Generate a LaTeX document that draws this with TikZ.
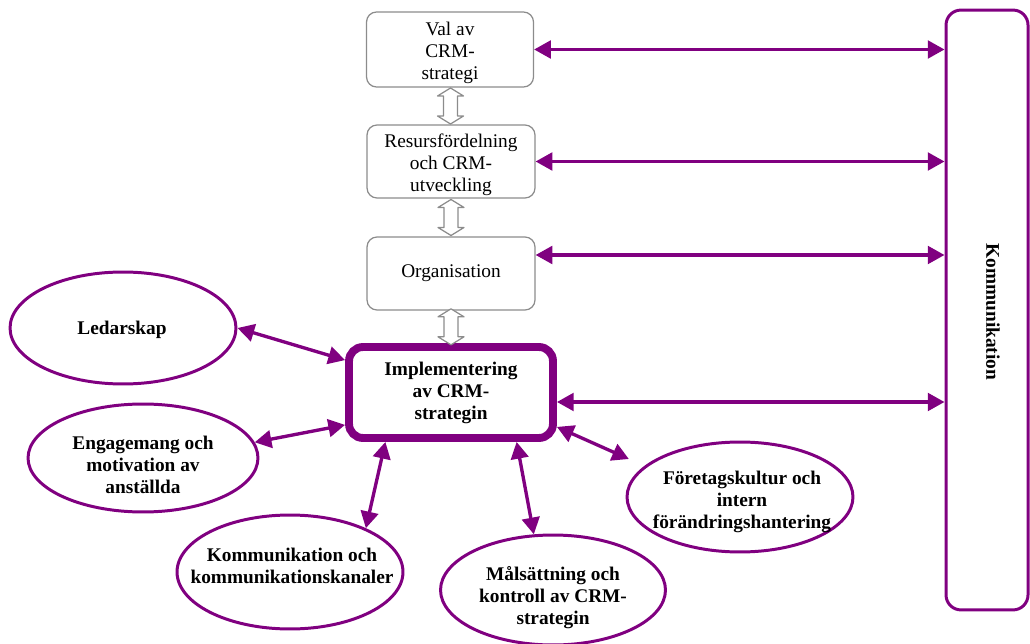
\documentclass[tikz,border=0pt]{standalone}
\usepackage{fontspec}
\setmainfont{Liberation Serif}
\usetikzlibrary{arrows.meta,calc,shapes.geometric}
\definecolor{plum}{HTML}{800080}
\definecolor{boxgray}{HTML}{8C8C8C}
\begin{document}
\begin{tikzpicture}[x=0.02cm,y=-0.02cm,
  font=\fontsize{11}{12.5}\selectfont,
  stagebox/.style={draw=boxgray, line width=0.7pt, rounded corners=0.2cm, fill=white,
    inner sep=0pt, minimum width=3.36cm, minimum height=1.46cm},
  stagetext/.style={align=center, inner sep=0pt},
  corebox/.style={draw=plum, line width=4.5pt, rounded corners=0.28cm, fill=white,
    align=center, inner sep=0pt, minimum width=4.08cm, minimum height=1.82cm,
    font=\fontsize{11}{12.5}\selectfont\bfseries},
  sidebox/.style={draw=plum, line width=1.7pt, rounded corners=0.3cm,
    minimum width=1.64cm, minimum height=12cm, inner sep=0pt},
  factor/.style={draw=plum, line width=1.7pt, ellipse, inner sep=0pt},
  factortext/.style={align=center, inner sep=0pt,
    font=\fontsize{11}{12.5}\selectfont\bfseries},
  link/.style={draw=plum, line width=1.9pt,
    {Triangle[length=9.5pt,width=10pt]}-{Triangle[length=9.5pt,width=10pt]}},
  hollowarrow/.style={draw=boxgray, line width=0.7pt, fill=white, line join=round},
  dbl/.pic={\path[hollowarrow] (0,-18) -- (13,-10) -- (7,-10) -- (7,10) -- (13,10)
    -- (0,18) -- (-13,10) -- (-7,10) -- (-7,-10) -- (-13,-10) -- cycle;}
]
\useasboundingbox (0,0) rectangle (1030,644);

% stages of the strategy chain
\node[stagebox, minimum width=3.34cm, minimum height=1.5cm] (val) at (450,49.5) {};
\node[stagetext] (valtext) at (450,53) {Val av\\CRM-\\strategi};
\node[stagebox] (res) at (451,161.5) {};
\node[stagetext] (restext) at (451,165) {Resursfördelning\\och CRM-\\utveckling};
\node[stagebox] (org) at (451,273.5) {};
\node[stagetext] (orgtext) at (451,273.5) {Organisation};
\node[corebox] (impl) at (451,392.5) {Implementering\\av CRM-\\strategin};

% communication column
\node[sidebox] (komm) at (987,310) {};
\node[rotate=-90, font=\fontsize{11}{12.5}\selectfont\bfseries] (kommtext) at (993,312) {Kommunikation};

% hollow double arrows between the stages
\pic at ($(val.south)!0.5!(res.north)$) {dbl};
\pic at ($(res.south)!0.5!(org.north)$) {dbl};
\pic at ($(org.south)!0.5!(impl.north)$) {dbl};

% success factors
\node[factor, minimum width=4.52cm, minimum height=2.24cm] (led) at (123,328) {};
\node[factortext] (ledtext) at (122,330) {Ledarskap};
\node[factor, minimum width=4.6cm, minimum height=2.16cm] (eng) at (143,458) {};
\node[factortext] (engtext) at (143,465) {Engagemang och\\motivation av\\anställda};
\node[factor, minimum width=4.52cm, minimum height=2.28cm] (kom) at (290,572) {};
\node[factortext] (komtext) at (292,566) {Kommunikation och\\kommunikationskanaler};
\node[factor, minimum width=4.5cm, minimum height=2.2cm] (mal) at (553,590) {};
\node[factortext] (maltext) at (553,598) {Målsättning och\\kontroll av CRM-\\strategin};
\node[factor, minimum width=4.52cm, minimum height=2.2cm] (fk) at (740,497) {};
\node[factortext] (fktext) at (742,502) {Företagskultur och\\intern\\förändringshantering};

% links to the communication column
\coordinate (orgR) at ([yshift=0.37cm]org.east);
\coordinate (implR) at ([yshift=-0.19cm]impl.east);
\draw[link] (val.east) -- (val.east -| komm.west);
\draw[link] (res.east) -- (res.east -| komm.west);
\draw[link] (orgR) -- (orgR -| komm.west);
\draw[link] (implR) -- (implR -| komm.west);

% links to the success factors
\draw[link] (impl.163) -- (led.east);
\draw[link] (impl.197) -- (eng.8);
\draw[link] (impl.217) -- (kom.30);
\draw[link] (impl.-37) -- (mal.109);
\draw[link, shorten >=0.34cm] (impl.342) -- (fk.162);
\end{tikzpicture}
\end{document}
